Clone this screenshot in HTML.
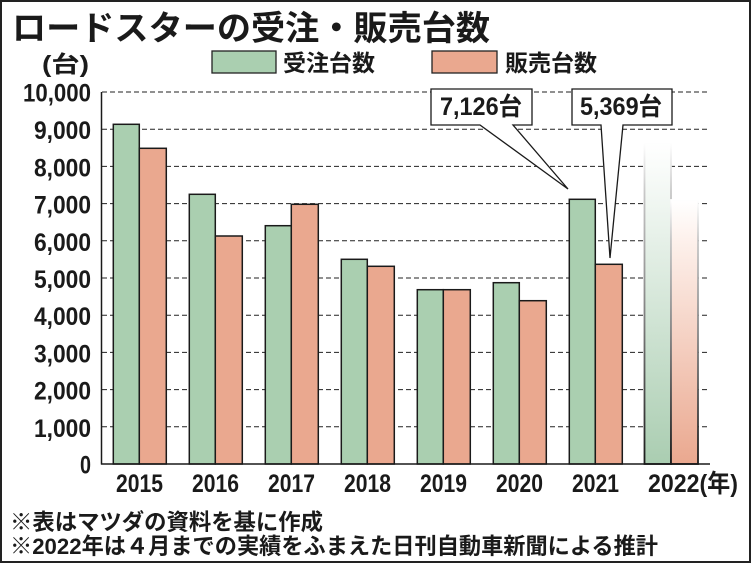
<!DOCTYPE html>
<html><head><meta charset="utf-8"><style>
html,body{margin:0;padding:0;background:#fff;}
svg{display:block;}
text{font-family:"Liberation Sans","Noto Sans CJK JP",sans-serif;font-weight:700;fill:#1a1a1a;}
.cjk{font-family:"Noto Sans CJK JP","Liberation Sans",sans-serif;}
</style></head><body>
<svg width="751" height="564" viewBox="0 0 751 564" xmlns="http://www.w3.org/2000/svg">
<defs>
<linearGradient id="gg" x1="0" y1="0" x2="0" y2="1">
<stop offset="0" stop-color="#ffffff"/>
<stop offset="0.15" stop-color="#f3f8f4"/>
<stop offset="1" stop-color="#aacdb1"/>
</linearGradient>
<linearGradient id="rg" x1="0" y1="0" x2="0" y2="1">
<stop offset="0" stop-color="#ffffff"/>
<stop offset="0.15" stop-color="#fdf1ec"/>
<stop offset="1" stop-color="#eaa88f"/>
</linearGradient>
<linearGradient id="sg" x1="0" y1="0" x2="0" y2="1">
<stop offset="0" stop-color="#ffffff"/>
<stop offset="0.15" stop-color="#c8c8c8"/>
<stop offset="0.5" stop-color="#888"/>
<stop offset="1" stop-color="#1a1a1a"/>
</linearGradient>
</defs>
<rect x="1" y="1" width="749" height="561" fill="#fff" stroke="#222" stroke-width="2"/>

<!-- title -->
<text class="cjk" x="12" y="40" font-size="34" font-weight="900" textLength="478" lengthAdjust="spacingAndGlyphs">ロードスターの受注・販売台数</text>

<!-- legend -->
<rect x="212" y="51" width="64" height="22" fill="#aacfb0" stroke="#222" stroke-width="1.3"/>
<text class="cjk" x="283" y="71" font-size="23" textLength="92" lengthAdjust="spacingAndGlyphs">受注台数</text>
<rect x="432" y="51" width="65" height="22" fill="#eaa88f" stroke="#222" stroke-width="1.3"/>
<text class="cjk" x="505" y="71" font-size="23" textLength="92" lengthAdjust="spacingAndGlyphs">販売台数</text>
<text x="42" y="72" font-size="23" textLength="47" lengthAdjust="spacingAndGlyphs">(台)</text>

<!-- gridlines -->
<g stroke="#222" stroke-width="1" stroke-dasharray="5,3">
<line x1="102" y1="92" x2="710" y2="92"/>
<line x1="102" y1="129.2" x2="710" y2="129.2"/>
<line x1="102" y1="166.4" x2="710" y2="166.4"/>
<line x1="102" y1="203.6" x2="710" y2="203.6"/>
<line x1="102" y1="240.8" x2="710" y2="240.8"/>
<line x1="102" y1="278" x2="710" y2="278"/>
<line x1="102" y1="315.2" x2="710" y2="315.2"/>
<line x1="102" y1="352.4" x2="710" y2="352.4"/>
<line x1="102" y1="389.6" x2="710" y2="389.6"/>
<line x1="102" y1="426.8" x2="710" y2="426.8"/>
</g>

<!-- y labels -->
<g font-size="25" text-anchor="end">
<text x="91" y="101.5" textLength="68" lengthAdjust="spacingAndGlyphs">10,000</text>
<text x="91" y="139.2" textLength="57" lengthAdjust="spacingAndGlyphs">9,000</text>
<text x="91" y="176.4" textLength="57" lengthAdjust="spacingAndGlyphs">8,000</text>
<text x="91" y="213.6" textLength="57" lengthAdjust="spacingAndGlyphs">7,000</text>
<text x="91" y="250.8" textLength="57" lengthAdjust="spacingAndGlyphs">6,000</text>
<text x="91" y="288" textLength="57" lengthAdjust="spacingAndGlyphs">5,000</text>
<text x="91" y="325.2" textLength="57" lengthAdjust="spacingAndGlyphs">4,000</text>
<text x="91" y="362.4" textLength="57" lengthAdjust="spacingAndGlyphs">3,000</text>
<text x="91" y="399.6" textLength="57" lengthAdjust="spacingAndGlyphs">2,000</text>
<text x="91" y="436.8" textLength="57" lengthAdjust="spacingAndGlyphs">1,000</text>
<text x="91" y="473.5" textLength="11" lengthAdjust="spacingAndGlyphs">0</text>
</g>

<!-- bars -->
<g stroke="#1a1a1a" stroke-width="1.5">
<rect x="113.3" y="124.3" width="26" height="339.7" fill="#aacfb0"/>
<rect x="139.3" y="148.3" width="27" height="315.7" fill="#eaa88f"/>
<rect x="189.3" y="194.3" width="26" height="269.7" fill="#aacfb0"/>
<rect x="215.3" y="236" width="27" height="228" fill="#eaa88f"/>
<rect x="265.3" y="225.7" width="26" height="238.3" fill="#aacfb0"/>
<rect x="291.3" y="204.3" width="27" height="259.7" fill="#eaa88f"/>
<rect x="341.3" y="259.3" width="26" height="204.7" fill="#aacfb0"/>
<rect x="367.3" y="266.3" width="27" height="197.7" fill="#eaa88f"/>
<rect x="417.3" y="289.7" width="26" height="174.3" fill="#aacfb0"/>
<rect x="443.3" y="289.7" width="27" height="174.3" fill="#eaa88f"/>
<rect x="493.3" y="282.7" width="26" height="181.3" fill="#aacfb0"/>
<rect x="519.3" y="300.7" width="27" height="163.3" fill="#eaa88f"/>
<rect x="569.3" y="199.3" width="26" height="264.7" fill="#aacfb0"/>
<rect x="595.3" y="264.3" width="27" height="199.7" fill="#eaa88f"/>
</g>
<!-- 2022 estimated bars -->
<rect x="644.5" y="143" width="26.5" height="321" fill="url(#gg)" stroke="url(#sg)" stroke-width="1.8"/>
<rect x="671" y="200" width="27" height="264" fill="url(#rg)" stroke="url(#sg)" stroke-width="1.8"/>

<!-- axes -->
<line x1="101.5" y1="92" x2="101.5" y2="464.5" stroke="#1a1a1a" stroke-width="1.5"/>
<line x1="101" y1="464" x2="710" y2="464" stroke="#1a1a1a" stroke-width="1.5"/>

<!-- x labels -->
<g font-size="25" text-anchor="middle">
<text x="139.5" y="492" textLength="47" lengthAdjust="spacingAndGlyphs">2015</text>
<text x="215.5" y="492" textLength="47" lengthAdjust="spacingAndGlyphs">2016</text>
<text x="291.5" y="492" textLength="47" lengthAdjust="spacingAndGlyphs">2017</text>
<text x="367.5" y="492" textLength="47" lengthAdjust="spacingAndGlyphs">2018</text>
<text x="443.5" y="492" textLength="47" lengthAdjust="spacingAndGlyphs">2019</text>
<text x="519.5" y="492" textLength="47" lengthAdjust="spacingAndGlyphs">2020</text>
<text x="595.5" y="492" textLength="47" lengthAdjust="spacingAndGlyphs">2021</text>
</g>
<text x="648" y="492" font-size="25" textLength="90" lengthAdjust="spacingAndGlyphs">2022(年)</text>

<!-- callouts -->
<path d="M431,89 H532 V125 H513 L568,189 L480,125 H431 Z" fill="#fff" stroke="#1a1a1a" stroke-width="1.3" stroke-linejoin="miter"/>
<text x="440" y="115" font-size="25" textLength="82" lengthAdjust="spacingAndGlyphs">7,126台</text>
<path d="M572,89 H672 V125 H623 L610,258 L601,125 H572 Z" fill="#fff" stroke="#1a1a1a" stroke-width="1.3" stroke-linejoin="miter"/>
<text x="580" y="115" font-size="25" textLength="82" lengthAdjust="spacingAndGlyphs">5,369台</text>

<!-- footnotes -->
<text class="cjk" x="10" y="530" font-size="22.5" textLength="313" lengthAdjust="spacingAndGlyphs">※表はマツダの資料を基に作成</text>
<text x="10" y="554" font-size="22.5" textLength="648" lengthAdjust="spacingAndGlyphs">※2022年は４月までの実績をふまえた日刊自動車新聞による推計</text>
</svg>
</body></html>
